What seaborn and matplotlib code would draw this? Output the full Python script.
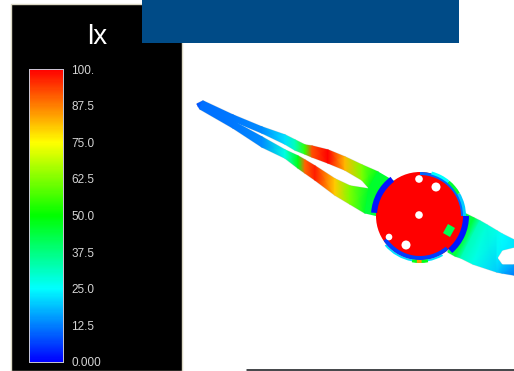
import numpy as np
import pandas as pd
import seaborn as sns
import matplotlib.pyplot as plt
from matplotlib.colors import LinearSegmentedColormap, Normalize
from matplotlib.patches import Rectangle, Circle, Wedge, Polygon

# Colour scale
tick_values = [100, 87.5, 75, 62.5, 50, 37.5, 25, 12.5, 0]
tick_labels = ['100.', '87.5', '75.0', '62.5', '50.0', '37.5', '25.0', '12.5', '0.000']
scale_colors = ['#0000ff', '#00ffff', '#00ff00', '#ffff00', '#ff0000']

# Left blade, upper arm (outer edge, slot edge, lux)
upper_outer_x = [233, 262, 285, 295, 305, 312, 328, 345, 362, 378]
upper_outer_y = [115, 127, 135, 140, 145, 146, 150, 157, 165, 172]
upper_inner_x = [233, 262, 285, 295, 305, 312, 328, 345, 362, 369]
upper_inner_y = [121, 133, 144, 150, 154, 157, 163, 170, 180, 188]
upper_lux = [12, 14, 22, 32, 55, 92, 100, 82, 62, 47]

# Left blade, lower arm
lower_outer_x = [233, 262, 285, 298, 305, 315, 335, 350, 365]
lower_outer_y = [128, 147, 158, 168, 173, 180, 195, 204, 213]
lower_inner_x = [233, 262, 285, 298, 305, 315, 335, 350, 369]
lower_inner_y = [121, 137, 150, 156, 160, 166, 179, 186, 189]
lower_lux = [12, 14, 28, 48, 90, 97, 80, 62, 46]

# Left blade tip, solid part before the slot
tip_top_x = [197, 203, 233]
tip_top_y = [104, 101, 115]
tip_bot_x = [198, 200, 233]
tip_bot_y = [106, 109, 128]
tip_lux = [8, 11, 12]

# Root of the left blade up to the collar
root_in_x = [378, 369, 365]
root_in_y = [172, 188, 213]
root_out_x = [395, 385, 378]
root_out_y = [182, 197, 216]
root_lux = [45, 46, 44]

# Right blade, solid part up to the slot tip
right_top_x = [466, 474, 480, 487, 497]
right_top_y = [214, 218, 221, 225, 231]
right_bot_x = [448, 455, 461, 473, 497]
right_bot_y = [252, 256, 258, 264, 272]
right_top_lux = [44, 44, 32, 29, 27]
right_bot_lux = [44, 44, 32, 27, 20]

# Right blade, arms past the slot
arm_up_outer_x = [497, 502, 514]
arm_up_outer_y = [231, 234, 240]
arm_up_inner_x = [497, 502, 514]
arm_up_inner_y = [258, 250, 247]
arm_up_lux = [27, 25, 23]
arm_up_slot_lux = [24, 24, 23]
arm_lo_outer_x = [497, 502, 514]
arm_lo_outer_y = [272, 273, 275]
arm_lo_inner_x = [497, 502, 514]
arm_lo_inner_y = [258, 265, 265]
arm_lo_lux = [20, 17, 12]
arm_lo_slot_lux = [24, 20, 16]

# Hub rings: start angle, end angle, outer radius, width, lux
ring_start = [60, 184, 0, 50, 270, 285, 310, 330, 80, 88]
ring_end = [140, 233, 49, 146, 360, 310, 330, 360, 100, 94]
ring_outer = [46, 49, 49, 44, 44, 46, 46, 46, 47, 47]
ring_width = [2, 6, 6, 4, 3, 3, 3, 3, 3, 3]
ring_lux = [22, 2, 2, 6, 10, 25, 45, 20, 48, 85]

# Hub holes
hole_x = [419, 436, 419, 389, 406]
hole_y = [179, 187, 215, 237, 245]
hole_r = [3.8, 4.5, 3.8, 3.3, 4.5]

sns.set_theme(style='white')
plt.rcParams['font.family'] = ['Liberation Sans', 'DejaVu Sans']

cmap = LinearSegmentedColormap.from_list('lux', scale_colors)
norm = Normalize(0, 100)


def strip(ax, xa, ya, xb, yb, lux_a, lux_b=None):
    X = np.array([xa, xb], dtype=float)
    Y = np.array([ya, yb], dtype=float)
    C = np.array([lux_a, lux_a if lux_b is None else lux_b], dtype=float)
    ax.pcolormesh(X, Y, C, shading='gouraud', cmap=cmap, norm=norm, zorder=2)
    # soft grey halo the render has round the part
    ax.plot(xa, ya, color='#dcdcdc', lw=1.3, zorder=1.5)
    ax.plot(xb, yb, color='#dcdcdc', lw=1.3, zorder=1.5)


fig = plt.figure(figsize=(5.14, 3.71), dpi=100)
ax = fig.add_axes([0, 0, 1, 1])
ax.set_xlim(0, 514)
ax.set_ylim(371, 0)
ax.axis('off')

# Legend panel and header block
ax.add_patch(Rectangle((11, 4), 171, 367, fc='black', ec='#dcd9c6', lw=1, zorder=1))
ax.add_patch(Rectangle((142, 0), 317, 43, fc='#004b87', ec='none', zorder=5))
ax.plot([247, 514], [370.3, 370.3], color='#101418', lw=1.1, zorder=5)
ax.text(97, 37, 'lx', color='white', fontsize=20, ha='center', va='center', zorder=6)

# Blades
strip(ax, tip_top_x, tip_top_y, tip_bot_x, tip_bot_y, tip_lux)
strip(ax, upper_outer_x, upper_outer_y, upper_inner_x, upper_inner_y, upper_lux)
strip(ax, lower_outer_x, lower_outer_y, lower_inner_x, lower_inner_y, lower_lux)
strip(ax, root_in_x, root_in_y, root_out_x, root_out_y, root_lux)
strip(ax, right_top_x, right_top_y, right_bot_x, right_bot_y, right_top_lux, right_bot_lux)
strip(ax, arm_up_outer_x, arm_up_outer_y, arm_up_inner_x, arm_up_inner_y, arm_up_lux, arm_up_slot_lux)
strip(ax, arm_lo_outer_x, arm_lo_outer_y, arm_lo_inner_x, arm_lo_inner_y, arm_lo_lux, arm_lo_slot_lux)

# Hub
ax.add_patch(Circle((420, 216), 44, fc=cmap(norm(100)), ec='none', zorder=3))
for t1, t2, r, w, v in zip(ring_start, ring_end, ring_outer, ring_width, ring_lux):
    ax.add_patch(Wedge((420, 216), r, t1, t2, width=w, fc=cmap(norm(v)), ec='none', zorder=4))
ax.add_patch(Polygon([(448, 224), (455, 228), (450, 237), (443, 233)], fc=cmap(norm(42)), ec='none', zorder=4))
for hx, hy, hr in zip(hole_x, hole_y, hole_r):
    ax.add_patch(Circle((hx, hy), hr, fc='white', ec='none', zorder=4))

# Colour bar
ramp = pd.DataFrame({'lux': np.linspace(100, 0, 256)})
cax = fig.add_axes([29 / 514, 1 - 362 / 371, 34 / 514, 293 / 371])
sns.heatmap(ramp, ax=cax, cmap=cmap, vmin=0, vmax=100, cbar=False, xticklabels=False)
cax.yaxis.tick_right()
cax.set_yticks([(100 - v) / 100 * 256 for v in tick_values])
cax.set_yticklabels(tick_labels, rotation=0, fontsize=8.5, color='#d4d4d4')
cax.tick_params(axis='y', length=0, pad=6)
cax.set_ylabel('')
for spine in cax.spines.values():
    spine.set_visible(True)
    spine.set_edgecolor('#c8c8d8')
    spine.set_linewidth(0.7)

fig.savefig('out.png', dpi=100)
